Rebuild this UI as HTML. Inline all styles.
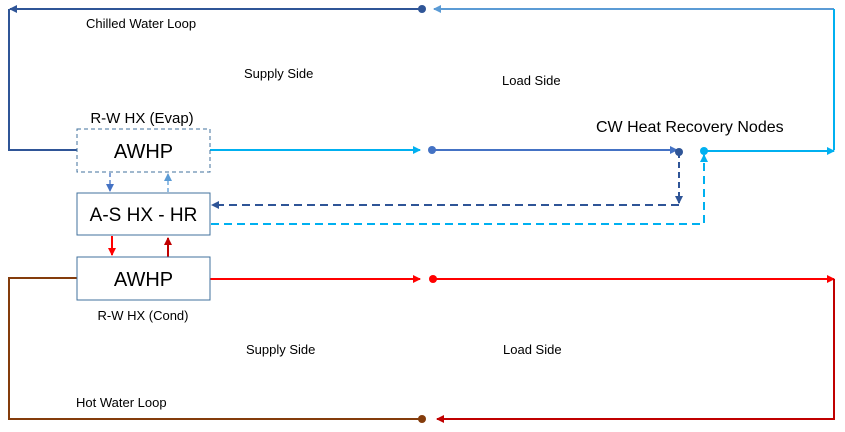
<!DOCTYPE html>
<html><head><style>body{margin:0;background:#fff}svg{display:block}text{font-family:"Liberation Sans",sans-serif;fill:#000}</style></head>
<body>
<svg width="845" height="432" viewBox="0 0 845 432" xmlns="http://www.w3.org/2000/svg">
<defs>
<marker id="aDB" markerWidth="8" markerHeight="8" refX="7" refY="4" orient="auto" markerUnits="userSpaceOnUse"><path d="M0,0L8,4L0,8z" fill="#2F5597"/></marker>
<marker id="aMB" markerWidth="8" markerHeight="8" refX="7" refY="4" orient="auto" markerUnits="userSpaceOnUse"><path d="M0,0L8,4L0,8z" fill="#4472C4"/></marker>
<marker id="aLB" markerWidth="8" markerHeight="8" refX="7" refY="4" orient="auto" markerUnits="userSpaceOnUse"><path d="M0,0L8,4L0,8z" fill="#00B0F0"/></marker>
<marker id="aSB" markerWidth="8" markerHeight="8" refX="7" refY="4" orient="auto" markerUnits="userSpaceOnUse"><path d="M0,0L8,4L0,8z" fill="#5B9BD5"/></marker>
<marker id="aR" markerWidth="8" markerHeight="8" refX="7" refY="4" orient="auto" markerUnits="userSpaceOnUse"><path d="M0,0L8,4L0,8z" fill="#FF0000"/></marker>
<marker id="aDR" markerWidth="8" markerHeight="8" refX="7" refY="4" orient="auto" markerUnits="userSpaceOnUse"><path d="M0,0L8,4L0,8z" fill="#C00000"/></marker>
</defs>
<g fill="none" stroke-width="2">
<!-- chilled loop -->
<path d="M422,9 H10" stroke="#2F5597" marker-end="url(#aDB)"/>
<path d="M9,9 V150 H77" stroke="#2F5597"/>
<path d="M834,9 H434" stroke="#5B9BD5" marker-end="url(#aSB)"/>
<path d="M834,9 V150" stroke="#00B0F0"/>
<path d="M706,151 H834" stroke="#00B0F0" marker-end="url(#aLB)"/>
<path d="M210,150 H420" stroke="#00B0F0" marker-end="url(#aLB)"/>
<path d="M432,150 H677" stroke="#4472C4" marker-end="url(#aMB)"/>
<!-- HR dashed -->
<path d="M679,152 V203" stroke="#2F5597" stroke-dasharray="6,4" marker-end="url(#aDB)"/>
<path d="M679,205 H212" stroke="#2F5597" stroke-dasharray="8,5" marker-end="url(#aDB)"/>
<path d="M211,224 H704 V155" stroke="#00B0F0" stroke-dasharray="8,5" marker-end="url(#aLB)"/>
<!-- box dashed arrows -->
<path d="M110,173 V191" stroke="#4472C4" stroke-width="1.3" stroke-dasharray="4,3" marker-end="url(#aMB)"/>
<path d="M168,192 V174" stroke="#5B9BD5" stroke-width="1.3" stroke-dasharray="4,3" marker-end="url(#aSB)"/>
<path d="M112,236 V255" stroke="#FF0000" marker-end="url(#aR)"/>
<path d="M168,257 V238" stroke="#C00000" marker-end="url(#aDR)"/>
<!-- hot loop -->
<path d="M210,279 H420" stroke="#FF0000" marker-end="url(#aR)"/>
<path d="M433,279 H834" stroke="#FF0000" marker-end="url(#aR)"/>
<path d="M834,279 V419 H437" stroke="#C00000" marker-end="url(#aDR)"/>
<path d="M422,419 H9 V278 H77" stroke="#843C0C"/>
</g>
<circle cx="422" cy="9" r="4" fill="#2F5597"/>
<circle cx="432" cy="150" r="4" fill="#4472C4"/>
<circle cx="679" cy="152" r="4" fill="#2F5597"/>
<circle cx="704" cy="151" r="4" fill="#00B0F0"/>
<circle cx="433" cy="279" r="4" fill="#FF0000"/>
<circle cx="422" cy="419" r="4" fill="#843C0C"/>
<!-- boxes -->
<rect x="77" y="129" width="133" height="43" fill="#fff" stroke="#41719C" stroke-width="1" stroke-dasharray="4,3"/>
<rect x="77" y="193" width="133" height="42" fill="#fff" stroke="#41719C" stroke-width="1"/>
<rect x="77" y="257" width="133" height="43" fill="#fff" stroke="#41719C" stroke-width="1"/>
<text x="143.5" y="158" font-size="20" text-anchor="middle">AWHP</text>
<text x="143.5" y="221" font-size="19" text-anchor="middle">A-S HX - HR</text>
<text x="143.5" y="286" font-size="20" text-anchor="middle">AWHP</text>
<text x="142" y="123" font-size="15" text-anchor="middle">R-W HX (Evap)</text>
<text x="143" y="320" font-size="13" text-anchor="middle">R-W HX (Cond)</text>
<text x="86" y="28" font-size="13">Chilled Water Loop</text>
<text x="244" y="78" font-size="13">Supply Side</text>
<text x="502" y="85" font-size="13">Load Side</text>
<text x="596" y="132" font-size="16">CW Heat Recovery Nodes</text>
<text x="246" y="354" font-size="13">Supply Side</text>
<text x="503" y="354" font-size="13">Load Side</text>
<text x="76" y="407" font-size="13">Hot Water Loop</text>
</svg>
</body></html>
